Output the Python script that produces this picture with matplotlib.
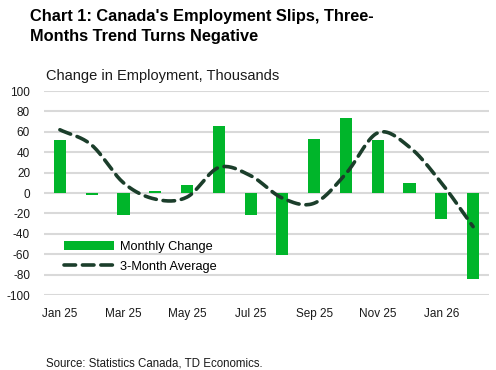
import matplotlib
matplotlib.use("Agg")
import matplotlib.pyplot as plt
import numpy as np

# data (thousands)
months = ["Jan 25", "Feb 25", "Mar 25", "Apr 25", "May 25", "Jun 25", "Jul 25",
          "Aug 25", "Sep 25", "Oct 25", "Nov 25", "Dec 25", "Jan 26", "Feb 26"]
monthly_change = [52, -2, -22, 2, 8, 66, -22, -61, 53, 74, 52, 10, -25, -84]
three_month_avg = [62, 47, 10, -6, -4, 25, 17, -5, -10, 19, 59, 45, 10, -33]
yticks = [100, 80, 60, 40, 20, 0, -20, -40, -60, -80, -100]

GREEN = "#00B52A"
DARK = "#1B3E2B"

plt.rcParams['font.family'] = ['Liberation Sans', 'DejaVu Sans']


def smooth(xs, ys, n=20):
	# catmull-rom curve through the points, like Excel's smoothed line
	xs = np.asarray(xs, float)
	ys = np.asarray(ys, float)
	px = np.concatenate([[2*xs[0]-xs[1]], xs, [2*xs[-1]-xs[-2]]])
	py = np.concatenate([[2*ys[0]-ys[1]], ys, [2*ys[-1]-ys[-2]]])
	outx, outy = [], []
	t = np.linspace(0, 1, n, endpoint=False)
	for i in range(1, len(px)-2):
		for p, out in ((px, outx), (py, outy)):
			p0, p1, p2, p3 = p[i-1], p[i], p[i+1], p[i+2]
			out.extend(0.5*((2*p1) + (-p0+p2)*t + (2*p0-5*p1+4*p2-p3)*t**2
			                + (-p0+3*p1-3*p2+p3)*t**3))
	outx.append(xs[-1])
	outy.append(ys[-1])
	return outx, outy


fig = plt.figure(figsize=(4.96, 3.70), dpi=100, facecolor="white")
ax = fig.add_axes([44/496, 75/370, 445/496, 204/370])

x = np.arange(len(months))
bars = ax.bar(x, monthly_change, width=0.38, color=GREEN, label="Monthly Change", zorder=2)
sx, sy = smooth(x, three_month_avg)
line, = ax.plot(sx, sy, color=DARK, lw=2.6, dashes=(3.2, 1.9), dash_capstyle="round",
                label="3-Month Average", zorder=3)

ax.set_xlim(-0.5, len(months)-0.5)
ax.set_ylim(-100, 100)
ax.set_yticks(yticks)
ax.set_yticklabels([str(v) for v in yticks])
ax.set_xticks(x[::2])
ax.set_xticklabels(months[::2], va="baseline")
ax.tick_params(length=0, labelsize=8.5, colors="#1a1a1a")
ax.tick_params(axis="y", pad=10)
ax.tick_params(axis="x", pad=15.5)
ax.yaxis.grid(True, color="#D9D9D9", lw=1.5, zorder=0)
for s in ax.spines.values():
	s.set_visible(False)

leg = ax.legend([bars, line], ["Monthly Change", "3-Month Average"],
                loc="lower left", bbox_to_anchor=(0.045, 0.11), frameon=False,
                fontsize=9.2, handlelength=3.9, handleheight=0.7,
                labelspacing=0.56, handletextpad=0.47, borderaxespad=0, borderpad=0)

fig.text(30/496, 1-21/370, "Chart 1: Canada's Employment Slips, Three-",
         fontsize=11.8, fontweight="bold", va="baseline")
fig.text(30/496, 1-41/370, "Months Trend Turns Negative",
         fontsize=11.8, fontweight="bold", va="baseline")
fig.text(46/496, 1-80/370, "Change in Employment, Thousands", fontsize=10.5,
         va="baseline", color="#1a1a1a")
fig.text(46/496, 1-366/370, "Source: Statistics Canada, TD Economics.",
         fontsize=8.3, va="baseline", color="#1a1a1a")

fig.savefig("out.png", dpi=100)
